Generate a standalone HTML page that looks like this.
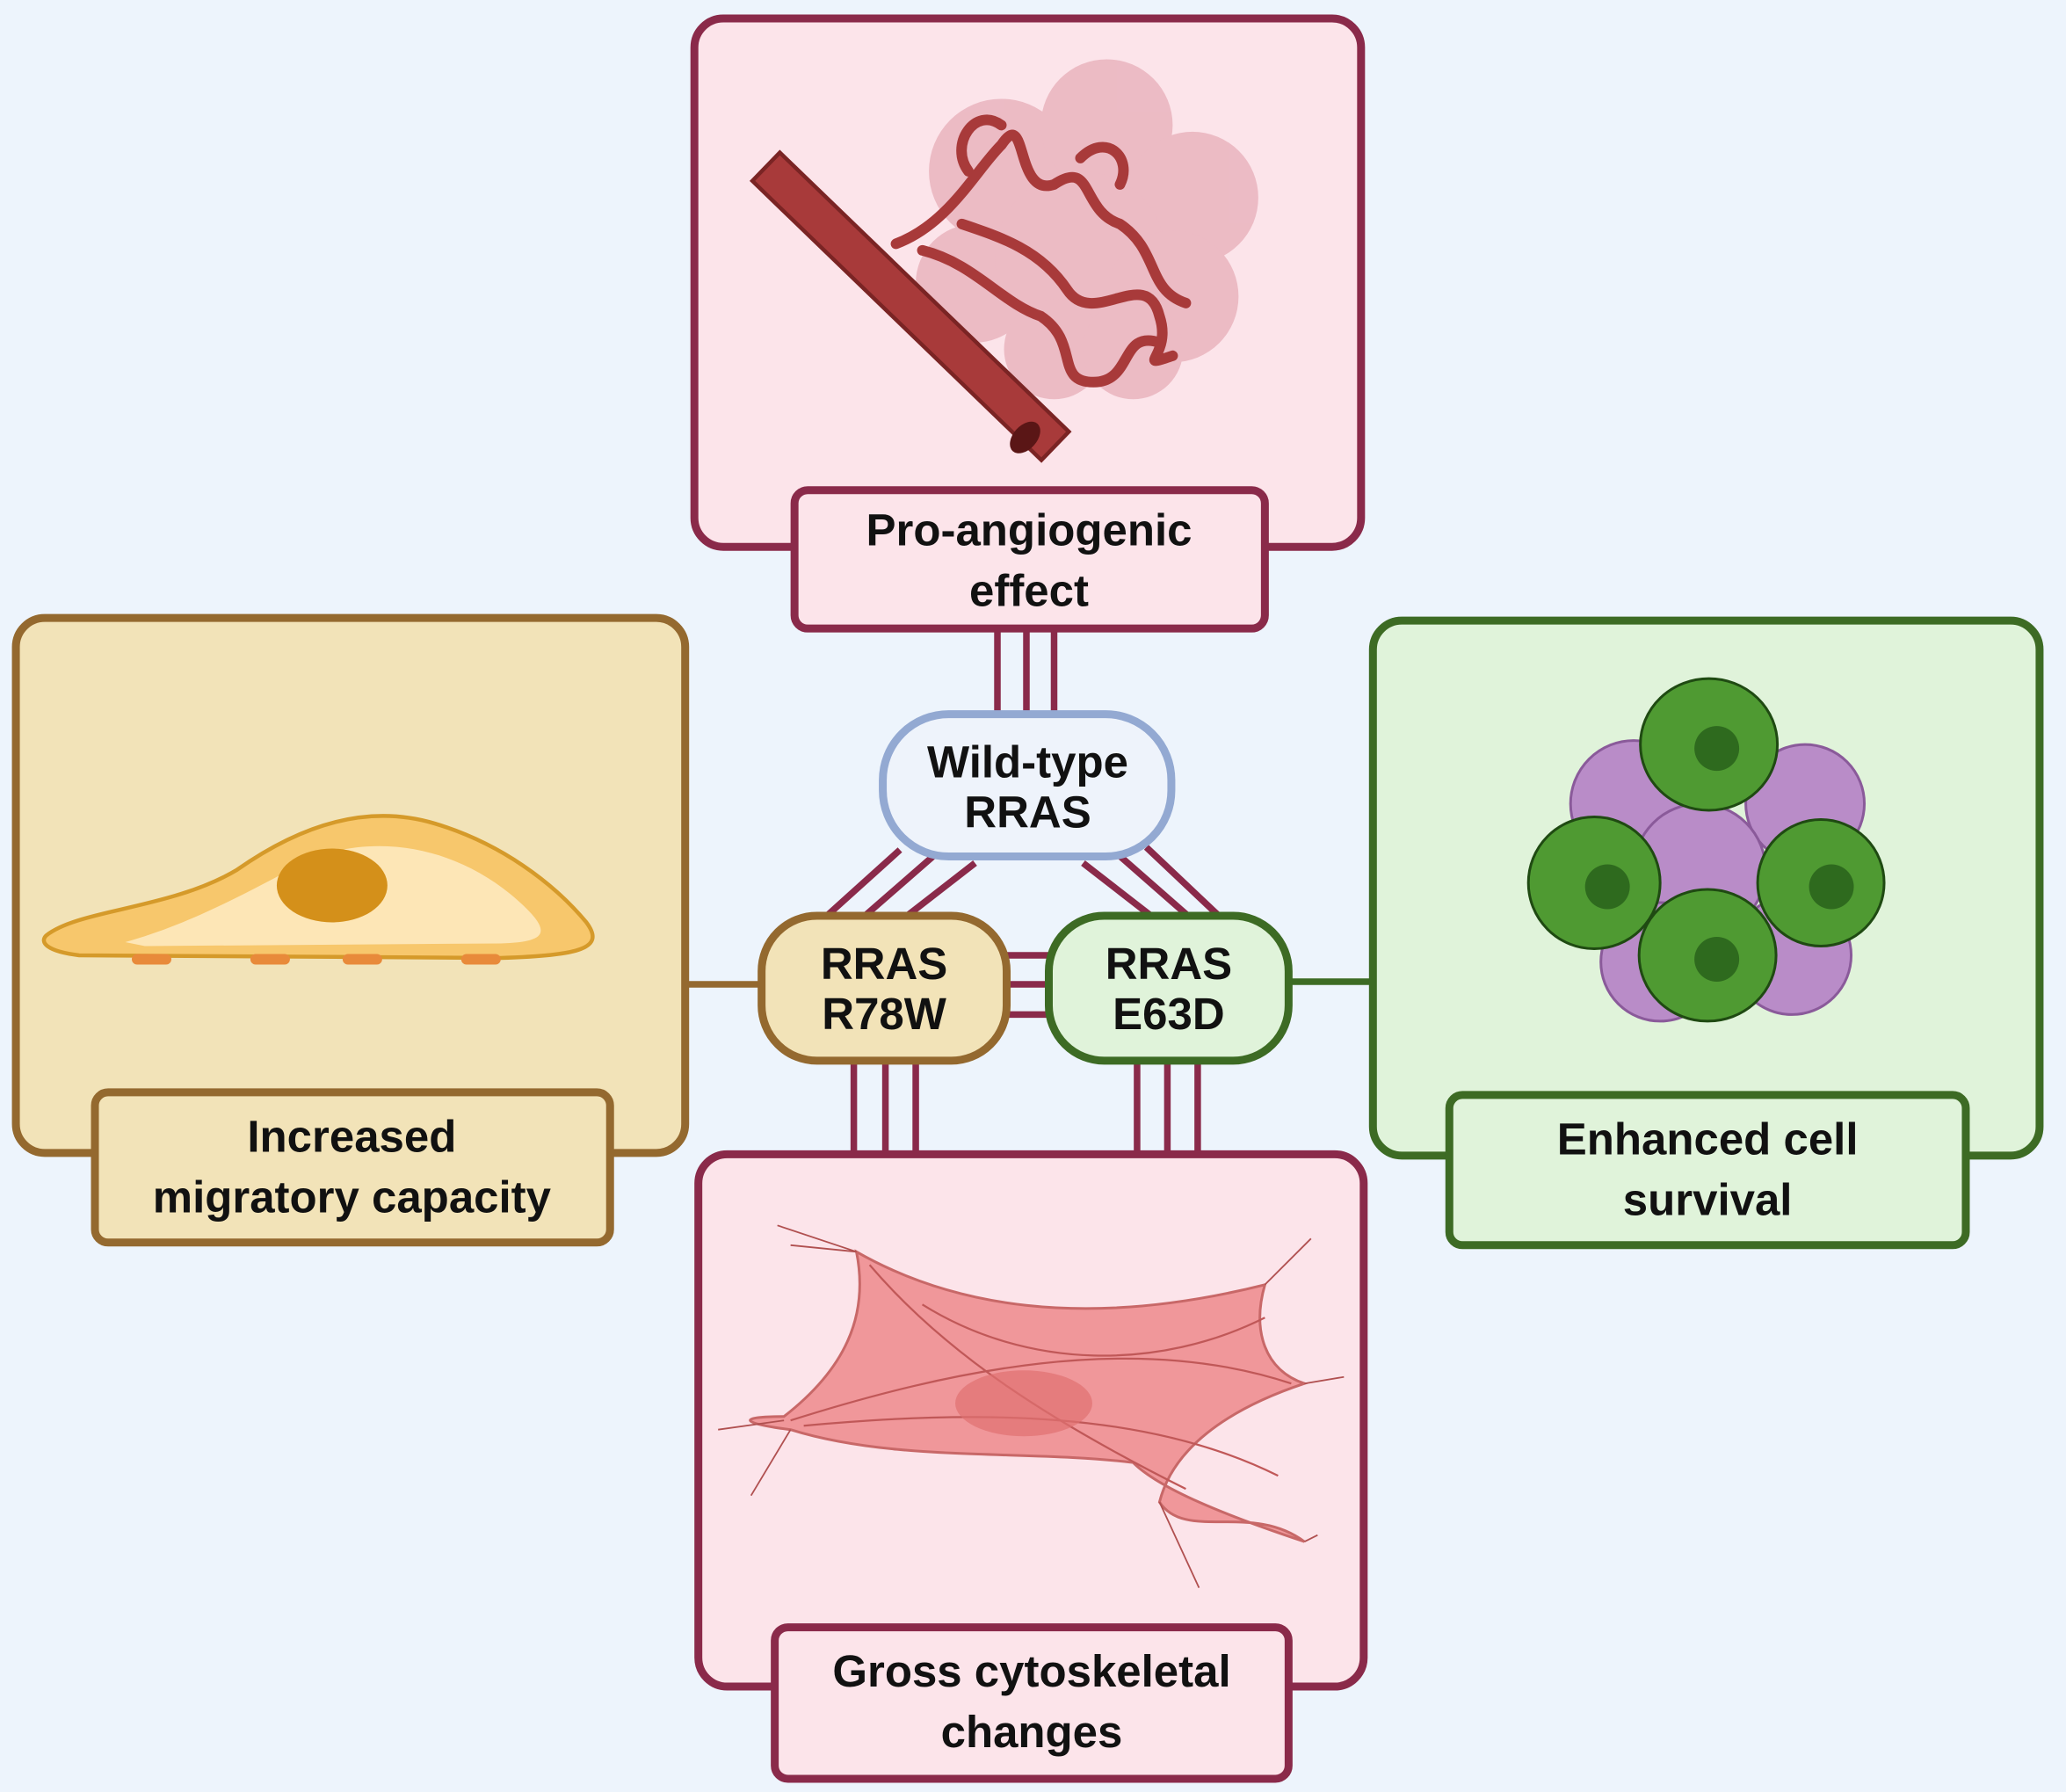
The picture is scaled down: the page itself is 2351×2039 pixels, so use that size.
<!DOCTYPE html>
<html><head><meta charset="utf-8"><style>
html,body{margin:0;padding:0;background:#edf4fc;}
svg{display:block}
text{font-family:"Liberation Sans",sans-serif;font-weight:bold;fill:#111;text-anchor:middle}
</style></head><body>
<svg width="2351" height="2039" viewBox="0 0 1568 1360" xmlns="http://www.w3.org/2000/svg">
<rect width="1568" height="1360" fill="#edf4fc"/>
<!-- connectors -->
<g stroke="#8a2a4a" stroke-width="5" fill="none">
<line x1="757" y1="477" x2="757" y2="545"/><line x1="779" y1="477" x2="779" y2="545"/><line x1="800" y1="477" x2="800" y2="545"/>
<line x1="683" y1="645" x2="622" y2="700"/><line x1="708" y1="650" x2="645" y2="705"/><line x1="740" y1="655" x2="682" y2="700"/>
<line x1="822" y1="655" x2="880" y2="700"/><line x1="848" y1="648" x2="905" y2="698"/><line x1="870" y1="643" x2="925" y2="695"/>
<line x1="760" y1="725" x2="798" y2="725"/><line x1="760" y1="747" x2="798" y2="747"/><line x1="760" y1="770" x2="798" y2="770"/>
<line x1="648" y1="800" x2="648" y2="880"/><line x1="672" y1="800" x2="672" y2="880"/><line x1="695" y1="800" x2="695" y2="880"/>
<line x1="863" y1="800" x2="863" y2="880"/><line x1="886" y1="800" x2="886" y2="880"/><line x1="909" y1="800" x2="909" y2="880"/>
</g>
<line x1="518" y1="747" x2="580" y2="747" stroke="#94692f" stroke-width="5"/>
<line x1="976" y1="745" x2="1045" y2="745" stroke="#3d6b24" stroke-width="5"/>

<!-- top box -->
<rect x="527" y="14" width="506" height="401" rx="22" fill="#fce4ea" stroke="#8a2a4a" stroke-width="6"/>
<g opacity="0.45" fill="#d98a98">
<circle cx="760" cy="130" r="55"/><circle cx="840" cy="95" r="50"/><circle cx="905" cy="150" r="50"/><circle cx="740" cy="215" r="45"/><circle cx="820" cy="195" r="65"/><circle cx="890" cy="225" r="50"/><circle cx="800" cy="265" r="38"/><circle cx="860" cy="265" r="38"/>
</g>
<g fill="none" stroke="#a83a3a" stroke-width="8" stroke-linecap="round">
<path d="M680 185 C720 170 740 130 760 110 C780 80 770 150 800 140 C830 120 820 160 850 170 C880 190 870 220 900 230"/>
<path d="M700 190 C740 200 760 230 790 240 C820 260 800 290 830 290 C860 290 850 250 880 260"/>
<path d="M730 170 C760 180 790 190 810 220 C830 250 870 200 880 240 C890 270 860 280 890 270"/>
<path d="M760 95 C740 80 720 110 735 130"/><path d="M820 120 C840 100 860 120 850 140"/>
</g>
<g transform="rotate(44 690 230)"><rect x="540" y="216" width="305" height="30" fill="#a83a3a" stroke="#7a2424" stroke-width="3"/></g>
<ellipse cx="778" cy="332" rx="14" ry="9" fill="#5a1616" transform="rotate(-48 778 332)"/>
<rect x="603" y="372" width="357" height="105" rx="10" fill="#fce4ea" stroke="#8a2a4a" stroke-width="6"/>
<text x="781" y="414" font-size="34">Pro-angiogenic</text><text x="781" y="460" font-size="34">effect</text>

<!-- left box -->
<rect x="12" y="469" width="508" height="406" rx="22" fill="#f2e3b8" stroke="#94692f" stroke-width="6"/>
<path d="M35 710 C60 690 130 690 180 660 C230 625 280 610 330 625 C380 640 420 670 445 700 C460 720 440 725 380 727 L60 725 C35 722 30 715 35 710Z" fill="#f7c76c" stroke="#d59a2a" stroke-width="3"/>
<path d="M95 715 C150 700 200 670 240 650 C300 630 360 650 400 690 C420 710 410 715 380 716 L110 718Z" fill="#fde6b6"/>
<ellipse cx="252" cy="672" rx="42" ry="28" fill="#d4901a"/>
<g fill="#e88a3a"><rect x="100" y="724" width="30" height="8" rx="4"/><rect x="190" y="724" width="30" height="8" rx="4"/><rect x="260" y="724" width="30" height="8" rx="4"/><rect x="350" y="724" width="30" height="8" rx="4"/></g>
<rect x="72" y="829" width="391" height="114" rx="10" fill="#f2e3b8" stroke="#94692f" stroke-width="6"/>
<text x="267" y="874" font-size="34">Increased</text><text x="267" y="920" font-size="34">migratory capacity</text>

<!-- right box -->
<rect x="1042" y="471" width="506" height="406" rx="22" fill="#e0f3da" stroke="#3d6b24" stroke-width="6"/>
<g fill="#b98cc8" stroke="#8a5a9a" stroke-width="2">
<circle cx="1240" cy="610" r="48"/><circle cx="1370" cy="610" r="45"/><circle cx="1290" cy="660" r="50"/><circle cx="1260" cy="730" r="45"/><circle cx="1360" cy="725" r="45"/>
</g>
<g fill="#4f9a32" stroke="#1f4a12" stroke-width="2">
<ellipse cx="1297" cy="565" rx="52" ry="50"/><ellipse cx="1210" cy="670" rx="50" ry="50"/><ellipse cx="1382" cy="670" rx="48" ry="48"/><ellipse cx="1296" cy="725" rx="52" ry="50"/>
</g>
<g fill="#2e6a1e"><circle cx="1303" cy="568" r="17"/><circle cx="1220" cy="673" r="17"/><circle cx="1390" cy="673" r="17"/><circle cx="1303" cy="728" r="17"/></g>
<rect x="1100" y="831" width="392" height="114" rx="10" fill="#e0f3da" stroke="#3d6b24" stroke-width="6"/>
<text x="1296" y="876" font-size="34">Enhanced cell</text><text x="1296" y="922" font-size="34">survival</text>

<!-- bottom box -->
<rect x="530" y="876" width="505" height="404" rx="22" fill="#fce4ea" stroke="#8a2a4a" stroke-width="6"/>
<path d="M650 950 C720 990 820 1010 960 975 C950 1010 960 1040 990 1050 C930 1070 890 1100 880 1140 C900 1170 950 1140 990 1170 C930 1150 880 1130 860 1110 C780 1100 680 1110 600 1085 C560 1080 560 1075 595 1075 C640 1040 660 1000 650 950Z" fill="#f0979a" stroke="#c86868" stroke-width="2"/>
<g stroke="#c05858" stroke-width="1.5" fill="none">
<path d="M600 1078 C720 1040 860 1010 980 1050"/><path d="M610 1082 C740 1070 870 1070 970 1120"/><path d="M660 960 C720 1030 800 1080 900 1130"/><path d="M700 990 C780 1040 880 1040 960 1000"/>
</g>
<ellipse cx="777" cy="1065" rx="52" ry="25" fill="#e07070" opacity="0.7"/>
<g stroke="#b05050" stroke-width="1.2"><line x1="650" y1="950" x2="590" y2="930"/><line x1="650" y1="950" x2="600" y2="945"/><line x1="960" y1="975" x2="995" y2="940"/><line x1="990" y1="1050" x2="1020" y2="1045"/><line x1="595" y1="1078" x2="545" y2="1085"/><line x1="600" y1="1085" x2="570" y2="1135"/><line x1="880" y1="1140" x2="910" y2="1205"/><line x1="990" y1="1170" x2="1000" y2="1165"/></g>
<rect x="588" y="1235" width="390" height="115" rx="10" fill="#fce4ea" stroke="#8a2a4a" stroke-width="6"/>
<text x="783" y="1280" font-size="34">Gross cytoskeletal</text><text x="783" y="1326" font-size="34">changes</text>

<!-- nodes -->
<rect x="670" y="542" width="219" height="108" rx="50" fill="#eef3fb" stroke="#93a9d2" stroke-width="6"/>
<text x="780" y="590" font-size="34">Wild-type</text><text x="780" y="628" font-size="34">RRAS</text>
<rect x="578" y="695" width="186" height="110" rx="42" fill="#f2e3b8" stroke="#94692f" stroke-width="6"/>
<text x="671" y="743" font-size="34">RRAS</text><text x="671" y="781" font-size="34">R78W</text>
<rect x="796" y="695" width="182" height="110" rx="42" fill="#e0f3da" stroke="#3d6b24" stroke-width="6"/>
<text x="887" y="743" font-size="34">RRAS</text><text x="887" y="781" font-size="34">E63D</text>
</svg>
</body></html>
